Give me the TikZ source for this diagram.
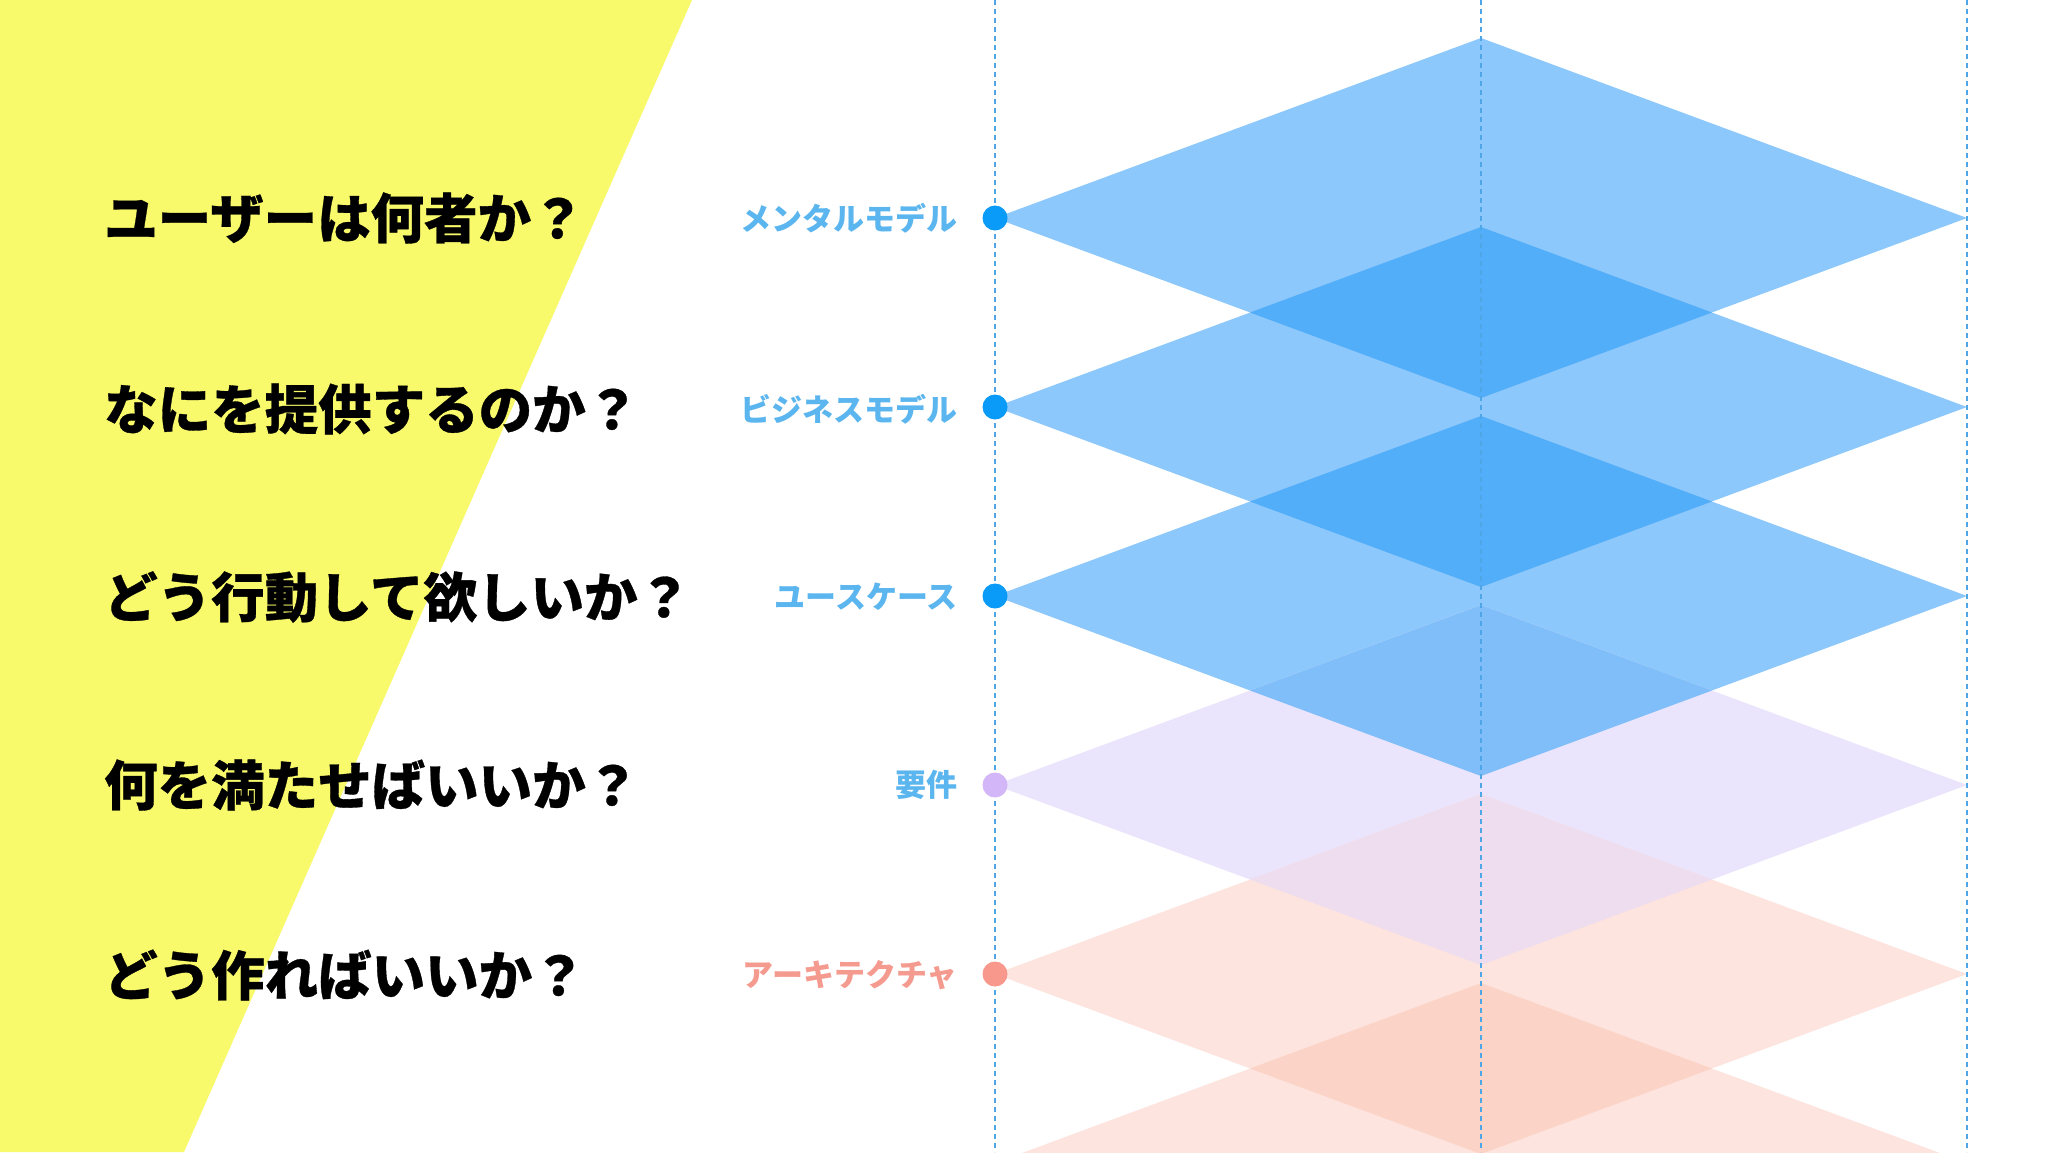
\documentclass[tikz,border=0pt]{standalone}
\usepackage{fontspec}
\setmainfont{Noto Sans CJK JP}
\newfontfamily\cjk[BoldFeatures={FakeBold=0.6}]{Noto Sans CJK JP}
\newfontfamily\cjklab{Noto Sans CJK JP}
\definecolor{yellowbg}{HTML}{F8F96B}
\definecolor{blueA}{HTML}{8CC8FB}
\definecolor{blueBB}{HTML}{52AEF9}
\definecolor{blueBL}{HTML}{80BEFA}
\definecolor{lavA}{HTML}{EAE4FC}
\definecolor{lavLO}{HTML}{EEDCEF}
\definecolor{oraA}{HTML}{FDE4DF}
\definecolor{oraOO}{HTML}{FCD4C7}
\definecolor{guide}{HTML}{4FA6E6}
\definecolor{dotblue}{HTML}{0A9AF7}
\definecolor{dotlav}{HTML}{D2B6F7}
\definecolor{dotora}{HTML}{F8978B}
\definecolor{labblue}{HTML}{5BB5EE}
\definecolor{labora}{HTML}{F59A8F}
\begin{document}
\begin{tikzpicture}[x=1pt,y=-1pt,
  guideline/.style={guide, line width=1.6pt, dash pattern=on 5pt off 4pt},
  dotnode/.style={circle, inner sep=0pt, minimum size=25pt, draw=none},
  labnode/.style={anchor=east, inner sep=0pt, font=\cjklab\bfseries\fontsize{31}{36}\selectfont},
  qnode/.style={anchor=west, inner sep=0pt, text=black, font=\cjk\bfseries\fontsize{53.5}{62}\selectfont}]
\useasboundingbox (0,0) rectangle (2048,1152);
\fill[white] (0,0) rectangle (2048,1152);
% yellow band
\fill[yellowbg] (0,0) -- (692,0) -- (184,1152) -- (0,1152) -- cycle;
% big diamonds
\foreach \yy/\cc in {218/blueA,407/blueA,596/blueA,785/lavA,974/oraA,1163/oraA}
  \fill[\cc] (995,\yy) -- (1481,\yy-180) -- (1967,\yy) -- (1481,\yy+180) -- cycle;
% overlaps
\foreach \yy/\cc in {312.5/blueBB,501.5/blueBB,690.5/blueBL,879.5/lavLO,1068.5/oraOO}
  \fill[\cc] (1250,\yy) -- (1481,\yy-85.5) -- (1712,\yy) -- (1481,\yy+85.5) -- cycle;
% guide lines
\coordinate (gLt) at (995,0);   \coordinate (gLb) at (995,1152);
\coordinate (gCt) at (1481,0);  \coordinate (gCb) at (1481,1152);
\coordinate (gRt) at (1967,0);  \coordinate (gRb) at (1967,1152);
\draw[guideline] (gLt) -- (gLb);
\draw[guideline] (gCt) -- (gCb);
\draw[guideline] (gRt) -- (gRb);
% dots
\node[dotnode, fill=dotblue] (d1) at (995,218) {};
\node[dotnode, fill=dotblue] (d2) at (995,407) {};
\node[dotnode, fill=dotblue] (d3) at (995,596) {};
\node[dotnode, fill=dotlav]  (d4) at (995,785) {};
\node[dotnode, fill=dotora]  (d5) at (995,974) {};
% labels
\node[labnode, text=labblue] (l1) at (958,218) {メンタルモデル};
\node[labnode, text=labblue] (l2) at (958,409) {ビジネスモデル};
\node[labnode, text=labblue] (l3) at (958,597) {ユースケース};
\node[labnode, text=labblue] (l4) at (958,785) {要件};
\node[labnode, text=labora]  (l5) at (958,975) {アーキテクチャ};
% questions
\node[qnode] (q1) at (104,218) {ユーザーは何者か？};
\node[qnode] (q2) at (104,409) {なにを提供するのか？};
\node[qnode] (q3) at (104,597) {どう行動して欲しいか？};
\node[qnode] (q4) at (104,785) {何を満たせばいいか？};
\node[qnode] (q5) at (104,975) {どう作ればいいか？};
\end{tikzpicture}
\end{document}
